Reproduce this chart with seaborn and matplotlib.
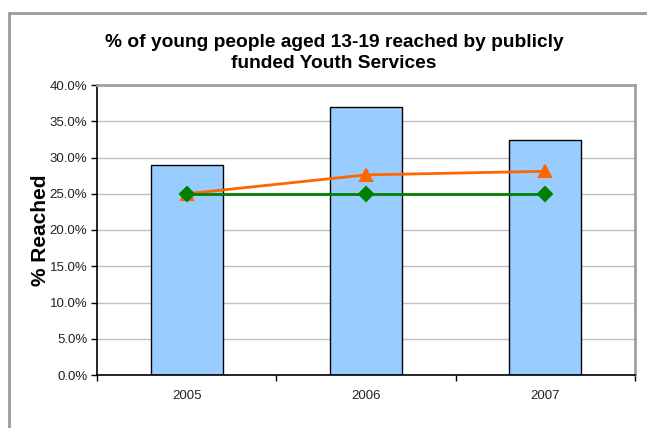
import matplotlib
matplotlib.use("Agg")
import matplotlib.pyplot as plt
import seaborn as sns
import pandas as pd
from matplotlib.ticker import FuncFormatter, FixedLocator
from matplotlib.patches import Rectangle

years = ["2005", "2006", "2007"]
reached = [29.0, 37.0, 32.4]
orange_series = [25.0, 27.6, 28.1]
green_series = [25.0, 25.0, 25.0]
yticks = [0, 5, 10, 15, 20, 25, 30, 35, 40]

sns.set_theme(style="white")
plt.rcParams['font.family'] = ['Liberation Sans', 'DejaVu Sans']

df = pd.DataFrame({"year": years, "reached": reached,
                   "orange": orange_series, "green": green_series})

fig = plt.figure(figsize=(6.47, 4.28), dpi=100)
fig.patch.set_facecolor("white")
ax = fig.add_axes([97/647, 1-375/428, (635-97)/647, (375-85)/428])

# outer chart border
fig.patches.append(Rectangle((9/647, -0.1), 1.2, (1-13/428)+0.1, transform=fig.transFigure,
                             fill=False, edgecolor="#999999", linewidth=2, zorder=0))

ax.set_axisbelow(True)
ax.yaxis.grid(True, color="#C0C0C0", linewidth=1)
sns.barplot(data=df, x="year", y="reached", color="#99CCFF", saturation=1,
            edgecolor="black", linewidth=1, width=0.4, ax=ax, zorder=2)
sns.pointplot(data=df, x="year", y="orange", color="#FF6600", markers="^",
              markersize=9, linewidth=2, ax=ax, zorder=4)
sns.pointplot(data=df, x="year", y="green", color="#008000", markers="D",
              markersize=7, linewidth=2, ax=ax, zorder=5)

ax.set_xlim(-0.5, 2.5)
ax.set_ylim(0, 40)
ax.set_yticks(yticks)
ax.yaxis.set_major_formatter(FuncFormatter(lambda v, p: f"{v:.1f}%"))
ax.tick_params(axis="y", which="major", direction="out", length=4, width=1,
               color="black", labelsize=9.5, labelcolor="#222222", pad=3, left=True)
ax.tick_params(axis="x", which="major", length=0, labelsize=9.5, labelcolor="#222222", pad=11)
ax.xaxis.set_minor_locator(FixedLocator([-0.5, 0.5, 1.5, 2.5]))
ax.tick_params(axis="x", which="minor", direction="out", length=4, width=1,
               color="black", bottom=True)
ax.set_xlabel("")
ax.set_ylabel("% Reached", fontsize=15, fontweight="bold", color="black", labelpad=0)

for s in ["left", "bottom"]:
    ax.spines[s].set_color("black")
    ax.spines[s].set_linewidth(1.2)
for s in ["top", "right"]:
    ax.spines[s].set_visible(True)
    ax.spines[s].set_color("#A0A0A0")
    ax.spines[s].set_linewidth(2)

fig.text(334/647, 1-53/428, "% of young people aged 13-19 reached by publicly\nfunded Youth Services",
         ha="center", va="center", fontsize=13.8, fontweight="bold", color="black",
         linespacing=1.3)

fig.savefig("out.png", dpi=100)
